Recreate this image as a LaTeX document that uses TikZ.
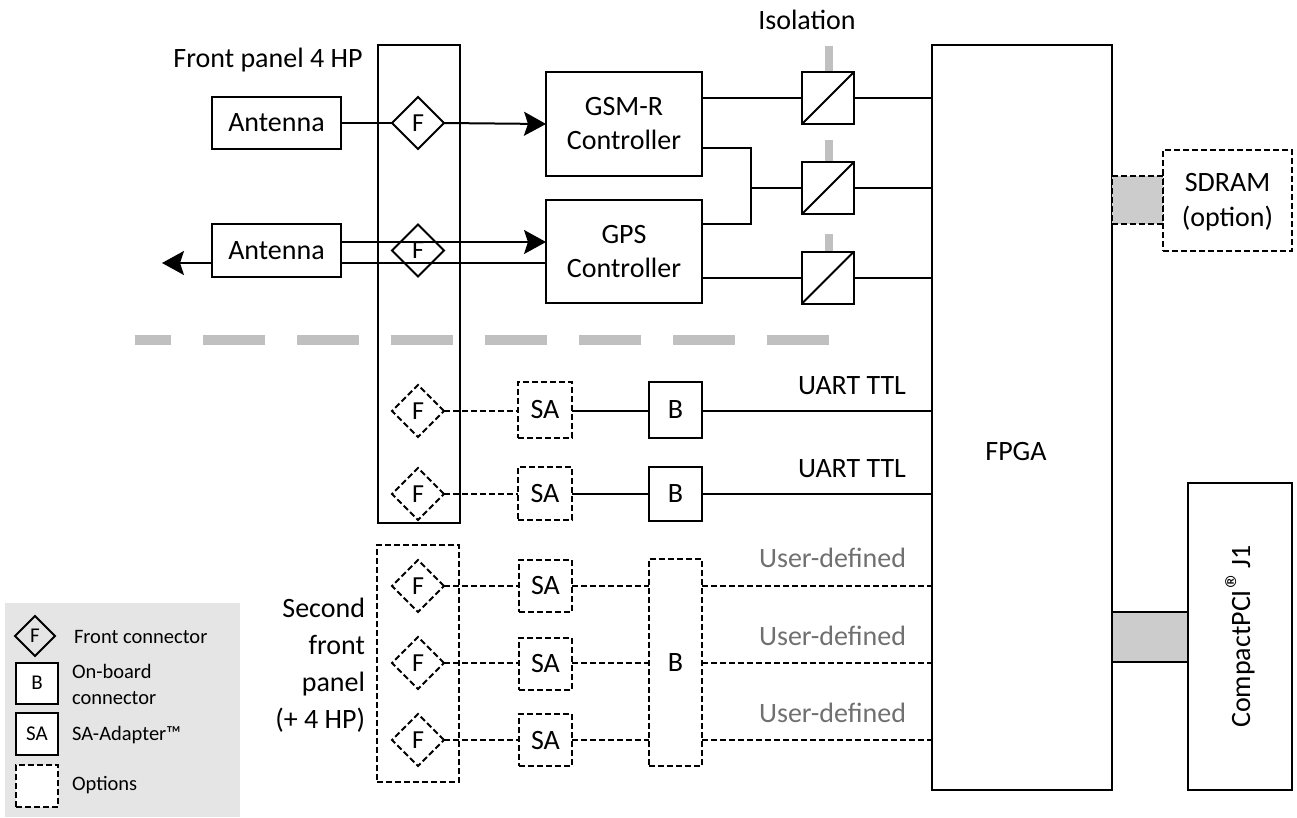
\documentclass[tikz,border=0pt]{standalone}
\usepackage{fontspec}
\setmainfont{Carlito}
\usetikzlibrary{shapes.geometric,arrows.meta,calc}
\definecolor{barcol}{RGB}{192,192,192}
\definecolor{connfill}{RGB}{204,204,204}
\definecolor{legbg}{RGB}{229,229,229}
\definecolor{usercol}{RGB}{112,112,112}
\begin{document}
\begin{tikzpicture}[x=1pt,y=-1pt,
  every node/.style={inner sep=0pt, outer sep=0pt},
  ln/.style={line width=2pt},
  box/.style={draw, line width=2pt, fill=white, font=\fontsize{28}{34}\selectfont, align=center},
  obox/.style={draw, line width=2pt, font=\fontsize{28}{34}\selectfont, align=center},
  opt/.style={dash pattern=on 6pt off 3pt},
  fdia/.style={draw, line width=2pt, diamond, aspect=1, minimum width=52pt, minimum height=52pt, font=\fontsize{26}{28}\selectfont},
  lbl/.style={font=\fontsize{28}{34}\selectfont, align=center},
  leg/.style={font=\fontsize{20.5}{26}\selectfont, align=left, anchor=west},
  arr/.style={-{Stealth[length=22pt,width=24pt,inset=4pt]}},
  isobar/.style={draw=barcol, line width=8pt},
  conn/.style={draw, fill=connfill, line width=1.5pt},
  ud/.style={lbl, text=usercol, anchor=east},
  ut/.style={lbl, anchor=east}
]
\useasboundingbox (0,0) rectangle (1297,817);

% legend background
\fill[legbg] (5,603) rectangle (240,817);

% gray dashed separation line
\coordinate (hs) at (135,340);
\coordinate (he) at (830,340);
\draw[draw=barcol, line width=10pt, dash pattern=on 62pt off 32pt, dash phase=26pt] (hs) -- (he);

% isolation bars
\draw[isobar] (829,46) -- (829,72);
\draw[isobar] (829,140) -- (829,162);
\draw[isobar] (829,234) -- (829,252);

% labels
\node[lbl] (isol) at (807,20) {Isolation};
\node[lbl] (fp4) at (268,60) {Front panel 4 HP};
\node[lbl, align=right, anchor=east, font=\fontsize{28}{37}\selectfont] (sfp) at (365,665) {Second\\front\\panel\\(+ 4 HP)};

% front panels
\node[obox, minimum width=82pt, minimum height=478pt] (fp) at (419,284) {};
\node[obox, opt, minimum width=82pt, minimum height=237pt] (sp) at (418,663.5) {};

% top section
\node[box, minimum width=129pt, minimum height=52pt] (ant1) at (276.5,123) {Antenna};
\node[box, minimum width=129pt, minimum height=53pt] (ant2) at (276.5,250.5) {Antenna};
\node[fdia] (f1) at (418,123) {F};
\node[fdia] (f2) at (418,250.5) {F};
\node[box, minimum width=156pt, minimum height=104pt] (gsm) at (624,124) {GSM-R\\Controller};
\node[box, minimum width=156pt, minimum height=103pt] (gps) at (624,251.5) {GPS\\Controller};
\node[box, minimum width=52pt, minimum height=52pt] (iso1) at (828,98) {};
\node[box, minimum width=52pt, minimum height=52pt] (iso2) at (828,188) {};
\node[box, minimum width=52pt, minimum height=52pt] (iso3) at (828,277.5) {};
\foreach \i in {iso1,iso2,iso3} \draw[ln] (\i.south west) -- (\i.north east);

\node[box, minimum width=180pt, minimum height=745pt] (fpga) at (1022,417.5) {};
\node[lbl] (fpgal) at (1016,452) {FPGA};

\node[box, opt, minimum width=129pt, minimum height=101pt] (sdram) at (1227.5,200.5) {};
\node[lbl, font=\fontsize{28}{35}\selectfont] (sdraml) at (1227.5,202) {SDRAM\\(option)};
\node[conn, opt, minimum width=51pt, minimum height=48pt] (sdc) at (1137.5,200) {};

\node[box, minimum width=104pt, minimum height=307pt] (cpci) at (1240,636.5) {};
\node[lbl, rotate=90] (cpcil) at (cpci.center) {CompactPCI\kern1pt{\fontsize{36}{36}\selectfont\textregistered}\kern-4pt\ J1};
\node[conn, minimum width=76pt, minimum height=50pt] (cpc) at (1150,637) {};

% top connections
\coordinate (r2up) at (0,242);
\coordinate (r2dn) at (0,263);
\coordinate (outL) at (162,263);
\coordinate (g148) at (0,148);
\coordinate (g224) at (0,224);
\coordinate (junc) at (751,188);
\draw[ln] (ant1.east) -- (f1.west);
\draw[ln, arr] (f1.east) -- (gsm.west);
\draw[ln, arr] (ant2.east |- r2up) -- (gps.west |- r2up);
\draw[ln] (gps.west |- r2dn) -- (ant2.east |- r2dn);
\draw[ln, arr] (ant2.west |- r2dn) -- (outL);
\draw[ln] (gsm.east |- iso1.west) -- (iso1.west);
\draw[ln] (gsm.east |- g148) -| (junc) |- (gps.east |- g224);
\draw[ln] (junc) -- (iso2.west);
\draw[ln] (gps.east |- iso3.west) -- (iso3.west);
\foreach \i in {iso1,iso2,iso3} \draw[ln] (\i.east) -- (\i.east -| fpga.west);

% UART rows
\node[fdia, opt] (fu1) at (418,411) {F};
\node[box, opt, minimum width=54pt, minimum height=56pt] (sau1) at (545,410) {SA};
\node[box, minimum width=53pt, minimum height=56pt] (bu1) at (675.5,410) {B};
\node[fdia, opt] (fu2) at (418,494) {F};
\node[box, opt, minimum width=54pt, minimum height=53pt] (sau2) at (545,493.5) {SA};
\node[box, minimum width=53pt, minimum height=54pt] (bu2) at (675.5,494) {B};
\draw[ln, opt] (fu1.east) -- (fu1.east -| sau1.west);
\draw[ln] (sau1.east |- fu1.east) -- (bu1.west |- fu1.east);
\draw[ln] (bu1.east |- fu1.east) -- (fpga.west |- fu1.east);
\draw[ln, opt] (fu2.east) -- (fu2.east -| sau2.west);
\draw[ln] (sau2.east |- fu2.east) -- (bu2.west |- fu2.east);
\draw[ln] (bu2.east |- fu2.east) -- (fpga.west |- fu2.east);
\node[ut] (ut1) at (906,386) {UART TTL};
\node[ut] (ut2) at (906,469) {UART TTL};

% second panel rows
\node[fdia, opt] (fa) at (418,586) {F};
\node[fdia, opt] (fb) at (418,663) {F};
\node[fdia, opt] (fc) at (418,740) {F};
\node[box, opt, minimum width=53pt, minimum height=52pt] (saa) at (545.5,585.5) {SA};
\node[box, opt, minimum width=53pt, minimum height=52pt] (sab) at (545.5,663.5) {SA};
\node[box, opt, minimum width=53pt, minimum height=52pt] (sac) at (545.5,740) {SA};
\node[box, opt, minimum width=53pt, minimum height=207pt] (bb) at (675.5,662.5) {B};
\foreach \f/\s in {fa/saa,fb/sab,fc/sac}{
  \draw[ln, opt] (\f.east) -- (\f.east -| \s.west);
  \draw[ln, opt] (\s.east |- \f.east) -- (bb.west |- \f.east);
  \draw[ln, opt] (bb.east |- \f.east) -- (fpga.west |- \f.east);
}
\node[ud] (uda) at (906,558) {User-defined};
\node[ud] (udb) at (906,636) {User-defined};
\node[ud] (udc) at (906,713) {User-defined};

% legend
\node[fdia, minimum width=40pt, minimum height=40pt, font=\fontsize{21}{24}\selectfont] (lf) at (35,636) {F};
\node[leg] (lft) at (74,637) {Front connector};
\node[box, minimum width=42pt, minimum height=41pt, font=\fontsize{21}{24}\selectfont] (lb) at (37,683) {B};
\node[leg] (lbt) at (72,684) {On-board\\connector};
\node[box, minimum width=42pt, minimum height=42pt, font=\fontsize{21}{24}\selectfont] (lsa) at (37,734) {SA};
\node[leg] (lsat) at (72,735) {SA-Adapter\texttrademark};
\node[box, opt, minimum width=42pt, minimum height=42pt] (lo) at (37,786) {};
\node[leg] (lot) at (72,785) {Options};
\end{tikzpicture}
\end{document}
